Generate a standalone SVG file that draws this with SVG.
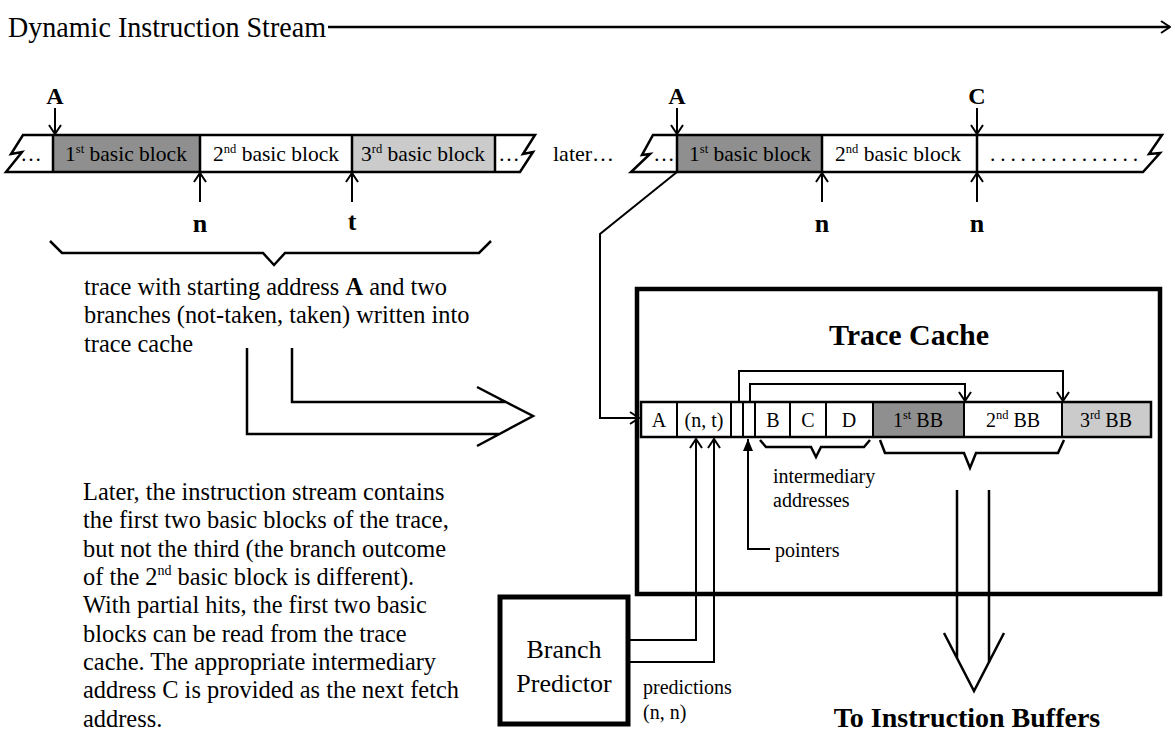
<svg xmlns="http://www.w3.org/2000/svg" width="1175" height="740" viewBox="0 0 1175 740">
<style>
text{font-family:"Liberation Serif","Times New Roman",serif;fill:#000}
.lbl{font-size:20px}
.blk{font-size:21.5px}
.b{font-weight:bold}
.big{font-size:26px}
.para{font-size:24.4px}
.mid{text-anchor:middle}
.ln{fill:none;stroke:#000;stroke-width:2}
.thk{fill:none;stroke:#000;stroke-width:2.5}
.bar{fill:none;stroke:#000;stroke-width:2.5;stroke-linejoin:miter}
.dark{fill:#8f8f8f}
.light{fill:#cbcbcb}
.sup{font-size:12.5px}
</style>
<defs>
<marker id="open" viewBox="-11 -7 12 14" refX="0" refY="0" markerWidth="12" markerHeight="14" markerUnits="userSpaceOnUse" orient="auto">
<path d="M-9,-6 L0,0 L-9,6" fill="none" stroke="#000" stroke-width="2"/>
</marker>
<marker id="solid" viewBox="-13 -6 14 12" refX="0" refY="0" markerWidth="14" markerHeight="12" markerUnits="userSpaceOnUse" orient="auto">
<path d="M-12,-5 L0,0 L-12,5 Z" fill="#000"/>
</marker>
</defs>
<rect width="1175" height="740" fill="#fff"/>

<!-- stream heading -->
<g id="stream">
<text x="8" y="37" font-size="29" textLength="318" lengthAdjust="spacingAndGlyphs">Dynamic Instruction Stream</text>
<path d="M328,27 H1170" stroke="#000" stroke-width="2.5" marker-end="url(#open)"/>
</g>

<!-- stream segment: trace as first written -->
<g id="bar-written">
<rect class="dark" x="53" y="135" width="147" height="37"/>
<rect class="light" x="352" y="135" width="143" height="37"/>
<path class="bar" d="M23,135 H535 L523,154 L533,152 L520,172 H6 L22,152 L11,154 Z"/>
<path class="bar" d="M53,135 V172 M200,135 V172 M352,135 V172 M495,135 V172"/>
<text class="blk mid" x="31" y="161">…</text>
<text class="blk mid" x="126" y="161">1<tspan class="sup" dy="-8">st</tspan><tspan dy="8">  basic block</tspan></text>
<text class="blk mid" x="276" y="161">2<tspan class="sup" dy="-8">nd</tspan><tspan dy="8">  basic block</tspan></text>
<text class="blk mid" x="423" y="161">3<tspan class="sup" dy="-8">rd</tspan><tspan dy="8">  basic block</tspan></text>
<text class="blk mid" x="509" y="161">…</text>
<text class="b mid" font-size="24" x="55" y="104">A</text>
<path class="ln" d="M55,108 V134" marker-end="url(#open)"/>
<path class="ln" d="M200,202 V173" marker-end="url(#open)"/>
<path class="ln" d="M352,202 V173" marker-end="url(#open)"/>
<text class="b big mid" x="200" y="232">n</text>
<text class="b big mid" x="352" y="230">t</text>
<path class="thk" d="M50,241 L62,253 H263 L274,265 L285,253 H479 L491,241"/>
</g>

<!-- stream segment: same trace seen later -->
<g id="bar-later">
<text x="553" y="161" font-size="22">later…</text>
<rect class="dark" x="677" y="135" width="145" height="37"/>
<path class="bar" d="M653,135 H1162 L1149,154 L1160,153 L1143,172 H631 L650,154 L642,155 Z"/>
<path class="bar" d="M677,135 V172 M822,135 V172 M977,135 V172"/>
<text class="blk mid" x="664" y="161">…</text>
<text class="blk mid" x="750" y="161">1<tspan class="sup" dy="-8">st</tspan><tspan dy="8">  basic block</tspan></text>
<text class="blk mid" x="898" y="161">2<tspan class="sup" dy="-8">nd</tspan><tspan dy="8">  basic block</tspan></text>
<text class="blk" x="990" y="161" textLength="148">...............</text>
<text class="b mid" font-size="24" x="677" y="104">A</text>
<text class="b mid" font-size="24" x="977" y="104">C</text>
<path class="ln" d="M677,108 V134" marker-end="url(#open)"/>
<path class="ln" d="M977,108 V134" marker-end="url(#open)"/>
<path class="ln" d="M822,202 V173" marker-end="url(#open)"/>
<path class="ln" d="M977,202 V173" marker-end="url(#open)"/>
<text class="b big mid" x="822" y="232">n</text>
<text class="b big mid" x="977" y="232">n</text>
</g>

<!-- explanatory text -->
<g id="note-written">
<text class="para" x="84" y="295">trace with starting address <tspan class="b">A</tspan> and two</text>
<text class="para" x="84" y="323">branches (not-taken, taken) written into</text>
<text class="para" x="84" y="352">trace cache</text>
</g>
<g id="note-later">
<text class="para" x="83" y="500">Later, the instruction stream contains</text>
<text class="para" x="83" y="528">the first two basic blocks of the trace,</text>
<text class="para" x="83" y="557">but not the third (the branch outcome</text>
<text class="para" x="83" y="585">of the 2<tspan font-size="14" dy="-10">nd</tspan><tspan dy="10"> basic block is different).</tspan></text>
<text class="para" x="83" y="613">With partial hits, the first two basic</text>
<text class="para" x="83" y="642">blocks can be read from the trace</text>
<text class="para" x="83" y="670">cache.  The appropriate intermediary</text>
<text class="para" x="83" y="698">address C is provided as the next fetch</text>
<text class="para" x="83" y="727">address.</text>
</g>

<!-- trace cache -->
<g id="trace-cache">
<rect x="637" y="289" width="523" height="305" fill="none" stroke="#000" stroke-width="4.5"/>
<text class="b mid" font-size="30" x="909" y="345">Trace Cache</text>
</g>

<!-- trace cache line -->
<g id="cache-line">
<rect x="641" y="402" width="510" height="35" fill="#fff"/>
<rect class="dark" x="873" y="402" width="91" height="35"/>
<rect class="light" x="1062" y="402" width="89" height="35"/>
<rect class="bar" x="641" y="402" width="510" height="35"/>
<path class="ln" d="M677,402 V437 M731,402 V437 M743,402 V437 M755,402 V437 M790,402 V437 M826,402 V437 M873,402 V437 M964,402 V437 M1062,402 V437"/>
<text class="lbl mid" x="659" y="427">A</text>
<text class="lbl mid" x="704" y="427">(n, t)</text>
<text class="lbl mid" x="773" y="427">B</text>
<text class="lbl mid" x="808" y="427">C</text>
<text class="lbl mid" x="849" y="427">D</text>
<text class="lbl mid" x="918" y="427">1<tspan class="sup" dy="-8">st</tspan><tspan dy="8">  BB</tspan></text>
<text class="lbl mid" x="1013" y="427">2<tspan class="sup" dy="-8">nd</tspan><tspan dy="8">  BB</tspan></text>
<text class="lbl mid" x="1106" y="427">3<tspan class="sup" dy="-8">rd</tspan><tspan dy="8">  BB</tspan></text>
<path class="thk" d="M760,440 L766,447 H811 L816,457 L821,447 H864 L870,440"/>
<path class="thk" d="M880,440 L885,453 H964 L970,468 L976,453 H1058 L1064,440"/>
<text class="lbl" x="773" y="483">intermediary</text>
<text class="lbl" x="773" y="507">addresses</text>
<text class="lbl" x="775" y="557">pointers</text>
</g>

<!-- branch predictor -->
<g id="branch-predictor">
<rect x="500" y="597" width="128" height="127" fill="none" stroke="#000" stroke-width="5"/>
<text class="mid" font-size="26" x="564" y="658">Branch</text>
<text class="mid" font-size="26" x="564" y="692">Predictor</text>
<text class="lbl" x="643" y="694">predictions</text>
<text class="lbl" x="643" y="719">(n, n)</text>
</g>

<!-- output -->
<g id="output">
<text class="b mid" font-size="28" x="967" y="727">To Instruction Buffers</text>
</g>

<!-- connectors -->
<g id="connectors">
<path class="ln" d="M677,172 L600,234 V418 H639" marker-end="url(#open)"/>
<path class="thk" d="M292,348 V402 H506 M247,348 V434 H499 M477,387 L533,416 L477,446"/>
<path class="ln" d="M739,402 V371 H1063 V401" marker-end="url(#open)"/>
<path class="ln" d="M750,402 V384 H965 V401" marker-end="url(#open)"/>
<path class="ln" d="M770,549 H748 V439" marker-end="url(#solid)"/>
<path class="ln" d="M628,640 H696 V439" marker-end="url(#open)"/>
<path class="ln" d="M628,662 H714 V439" marker-end="url(#open)"/>
<path class="thk" d="M957,490 V658 M989,490 V663 M944,633 L974,691 L1004,633"/>
</g>
</svg>
